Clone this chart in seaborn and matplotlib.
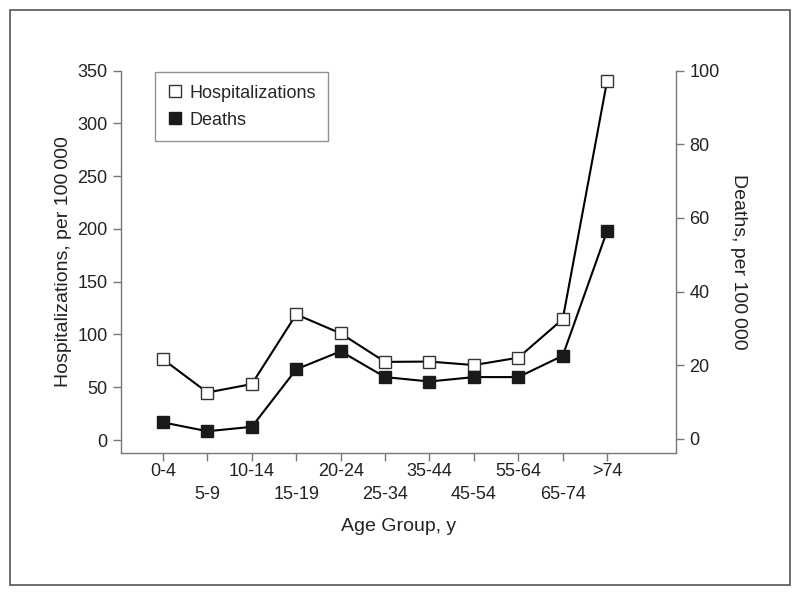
import matplotlib
matplotlib.use("Agg")
import matplotlib.pyplot as plt
import seaborn as sns
import pandas as pd
from matplotlib.lines import Line2D
from matplotlib.patches import Rectangle

# data
age_groups = ['0-4', '5-9', '10-14', '15-19', '20-24', '25-34',
              '35-44', '45-54', '55-64', '65-74', '>74']
hospitalizations = [76.5, 45.0, 53.0, 119.0, 101.0, 74.0, 74.3, 71.0, 78.0, 114.5, 340.5]
deaths = [4.5, 2.1, 3.3, 18.9, 23.8, 16.8, 15.6, 16.8, 16.8, 22.6, 56.5]

sns.set_style("ticks")
plt.rcParams['font.family'] = ['Liberation Sans Narrow', 'Liberation Sans', 'DejaVu Sans']
plt.rcParams['font.size'] = 13

df = pd.DataFrame({'pos': range(len(age_groups)),
                   'hosp': hospitalizations,
                   'deaths': deaths})

fig = plt.figure(figsize=(8, 5.98), dpi=100)
ax = fig.add_axes([0.151, 0.2425, 0.694, 0.6395])
ax2 = ax.twinx()

sns.lineplot(data=df, x='pos', y='hosp', ax=ax, color='black', lw=1.5,
             marker='s', markersize=9, markerfacecolor='white',
             markeredgecolor='#333333', markeredgewidth=1)
sns.lineplot(data=df, x='pos', y='deaths', ax=ax2, color='black', lw=1.5,
             marker='s', markersize=9, markerfacecolor='#1a1a1a',
             markeredgecolor='#1a1a1a', markeredgewidth=1)

ax.set_xlim(-0.95, 11.55)
ax.set_ylim(-12.3, 350)
ax2.set_ylim(-3.8, 100)
ax.set_yticks(range(0, 351, 50))
ax2.set_yticks(range(0, 101, 20))

# alternating two-row tick labels
ax.set_xticks(range(len(age_groups)))
ax.set_xticklabels([g if i % 2 == 0 else '\n' + g for i, g in enumerate(age_groups)],
                   fontsize=13, linespacing=1.5)

for a in (ax, ax2):
    a.spines['top'].set_visible(False)
    for s in a.spines.values():
        s.set_color('#777777')
        s.set_linewidth(1)
    a.tick_params(direction='out', length=6, width=1, color='#777777',
                  labelsize=13, labelcolor='#222222')
ax.tick_params(axis='x', pad=1)
ax.spines['right'].set_visible(False)
ax2.spines['left'].set_visible(False)
ax2.spines['bottom'].set_visible(False)
ax.spines['left'].set_bounds(-12.3, 350)
ax2.spines['right'].set_bounds(-3.8, 100)

ax.set_xlabel('Age Group, y', fontsize=14, labelpad=11, color='#222222')
ax.set_ylabel('Hospitalizations, per 100\u2009000', fontsize=14, color='#222222')
ax2.set_ylabel('Deaths, per 100\u2009000', fontsize=14, rotation=270,
               labelpad=20, color='#222222')

handles = [Line2D([], [], ls='none', marker='s', markersize=9,
                  markerfacecolor='white', markeredgecolor='#333333'),
           Line2D([], [], ls='none', marker='s', markersize=9,
                  markerfacecolor='#1a1a1a', markeredgecolor='#1a1a1a')]
leg = ax.legend(handles, ['Hospitalizations', 'Deaths'], loc='upper left',
                bbox_to_anchor=(0.045, 1.02), frameon=True, fancybox=False,
                handlelength=0.8, handletextpad=0.4, borderpad=0.7,
                labelspacing=0.55, fontsize=13)
leg.get_frame().set_edgecolor('#777777')
leg.get_frame().set_linewidth(1)

# outer border around the figure
fig.patches.append(Rectangle((0.0125, 0.022), 0.975, 0.961, transform=fig.transFigure,
                             fill=False, edgecolor='#555555', lw=1.2))

fig.savefig('out.png', dpi=100)
